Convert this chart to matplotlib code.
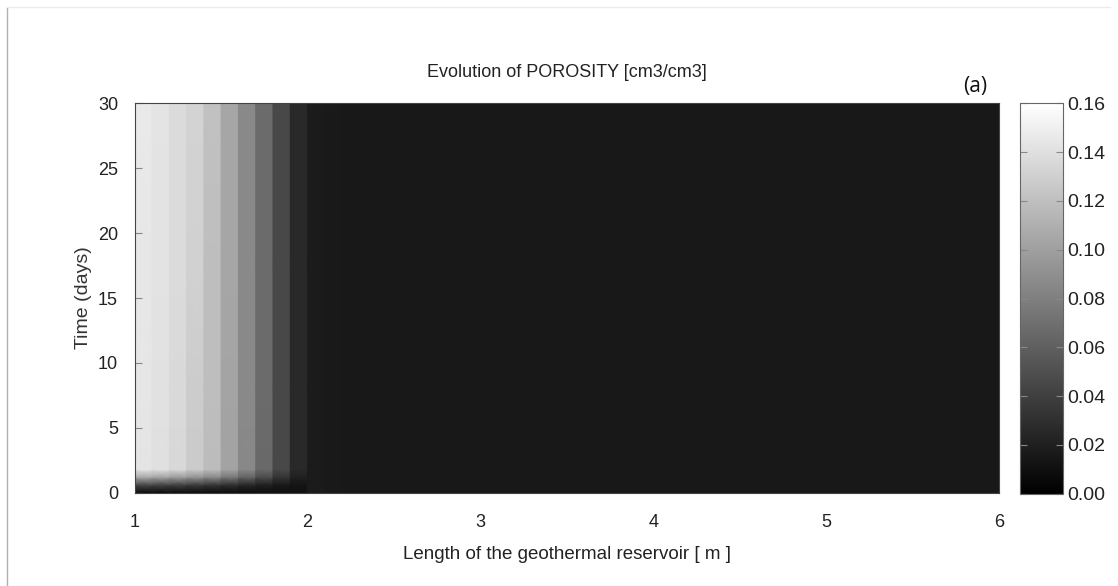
import numpy as np
import matplotlib
matplotlib.use('Agg')
import matplotlib.pyplot as plt
from matplotlib.lines import Line2D
from matplotlib.ticker import FormatStrFormatter

# column edges along the reservoir [m]
x_edges = [1.0, 1.1, 1.2, 1.3, 1.4, 1.5, 1.6, 1.7, 1.8, 1.9, 2.0]
far_edges = [2.1, 2.2, 2.3, 2.4, 2.5, 2.6, 2.7, 2.8, 2.9, 3.0,
             3.1, 3.2, 3.3, 3.4, 3.5, 3.6, 3.7, 3.8, 3.9, 4.0,
             4.1, 4.2, 4.3, 4.4, 4.5, 4.6, 4.7, 4.8, 4.9, 5.0,
             5.1, 5.2, 5.3, 5.4, 5.5, 5.6, 5.7, 5.8, 5.9, 6.0]

# output times (days)
times = [0.0, 0.6, 1.2, 1.8, 8.0, 17.5, 30.0]

# porosity of the first ten columns (1.0 - 2.0 m) at each output time
near_porosity = [
    [0.008, 0.008, 0.008, 0.008, 0.008, 0.008, 0.008, 0.009, 0.010, 0.011],
    [0.045, 0.043, 0.041, 0.038, 0.034, 0.030, 0.025, 0.020, 0.016, 0.013],
    [0.105, 0.102, 0.098, 0.093, 0.086, 0.075, 0.062, 0.048, 0.033, 0.020],
    [0.143, 0.140, 0.135, 0.127, 0.118, 0.102, 0.085, 0.066, 0.045, 0.026],
    [0.144, 0.141, 0.136, 0.128, 0.119, 0.103, 0.086, 0.067, 0.045, 0.026],
    [0.145, 0.142, 0.137, 0.131, 0.119, 0.104, 0.086, 0.067, 0.045, 0.026],
    [0.146, 0.143, 0.137, 0.132, 0.121, 0.104, 0.086, 0.067, 0.045, 0.026],
]

# porosity of the remaining columns (2.0 - 6.0 m), nearly unchanged in time
far_porosity = [0.017, 0.016, 0.0155, 0.0155, 0.0155, 0.0155, 0.0155, 0.0155, 0.0155, 0.0155,
                0.0155, 0.015, 0.015, 0.015, 0.015, 0.015, 0.015, 0.015, 0.015, 0.015,
                0.015, 0.015, 0.015, 0.015, 0.015, 0.015, 0.015, 0.015, 0.015, 0.015,
                0.015, 0.015, 0.015, 0.015, 0.015, 0.015, 0.015, 0.015, 0.015, 0.015]

cbar_ticks = [0.00, 0.02, 0.04, 0.06, 0.08, 0.10, 0.12, 0.14, 0.16]

plt.rcParams['font.family'] = ['Liberation Sans', 'DejaVu Sans']

# sharp columns in x, smooth in time: duplicate each inner column edge for gouraud shading
edges = np.array(x_edges + far_edges)
cols = np.array([row + far_porosity for row in near_porosity])
xs = np.repeat(edges, 2)[1:-1]
C = np.repeat(cols, 2, axis=1)
X, Y = np.meshgrid(xs, times)

fig = plt.figure(figsize=(11.18, 5.86), dpi=100)
ax = fig.add_axes([0.1205, 0.1592, 0.7731, 0.6645])
cax = fig.add_axes([0.9123, 0.1575, 0.0385, 0.6662])

mesh = ax.pcolormesh(X, Y, C, shading='gouraud', cmap='gray', vmin=0, vmax=0.16)
ax.set_xlim(1, 6)
ax.set_ylim(0, 30)
ax.set_xticks([1, 2, 3, 4, 5, 6])
ax.set_yticks([0, 5, 10, 15, 20, 25, 30])
ax.tick_params(axis='y', direction='in', length=5, color='#888888', pad=12, labelsize=13, labelcolor='#222222')
ax.tick_params(axis='x', direction='in', length=0, pad=15, labelsize=13, labelcolor='#222222')
for s in ax.spines.values():
    s.set_color('#444444')
    s.set_linewidth(0.8)

ax.set_title('Evolution of POROSITY [cm3/cm3]', fontsize=13, color='#222222', pad=19)
ax.set_xlabel('Length of the geothermal reservoir [ m ]', fontsize=13.5, color='#222222', labelpad=11)
ax.set_ylabel('Time (days)', fontsize=14, color='#333333', labelpad=4)
ax.text(0.972, 1.015, '(a)', transform=ax.transAxes, fontsize=15, family='Open Sans',
        ha='center', va='bottom', color='#111111')

cb = fig.colorbar(mesh, cax=cax, ticks=cbar_ticks)
cb.ax.yaxis.set_major_formatter(FormatStrFormatter('%.2f'))
cb.ax.tick_params(direction='in', length=5, color='#888888', left=True, right=True,
                  labelsize=14, pad=3, labelcolor='#222222')
cb.outline.set_edgecolor('#666666')
cb.outline.set_linewidth(0.8)

# faint page frame lines
fig.add_artist(Line2D([7 / 1118, 7 / 1118], [0, 1 - 8 / 586], transform=fig.transFigure, color='#b0b0b0', lw=1))
fig.add_artist(Line2D([7 / 1118, 1110 / 1118], [1 - 7 / 586, 1 - 7 / 586], transform=fig.transFigure, color='#ececec', lw=1))

fig.savefig('out.png', dpi=100)
